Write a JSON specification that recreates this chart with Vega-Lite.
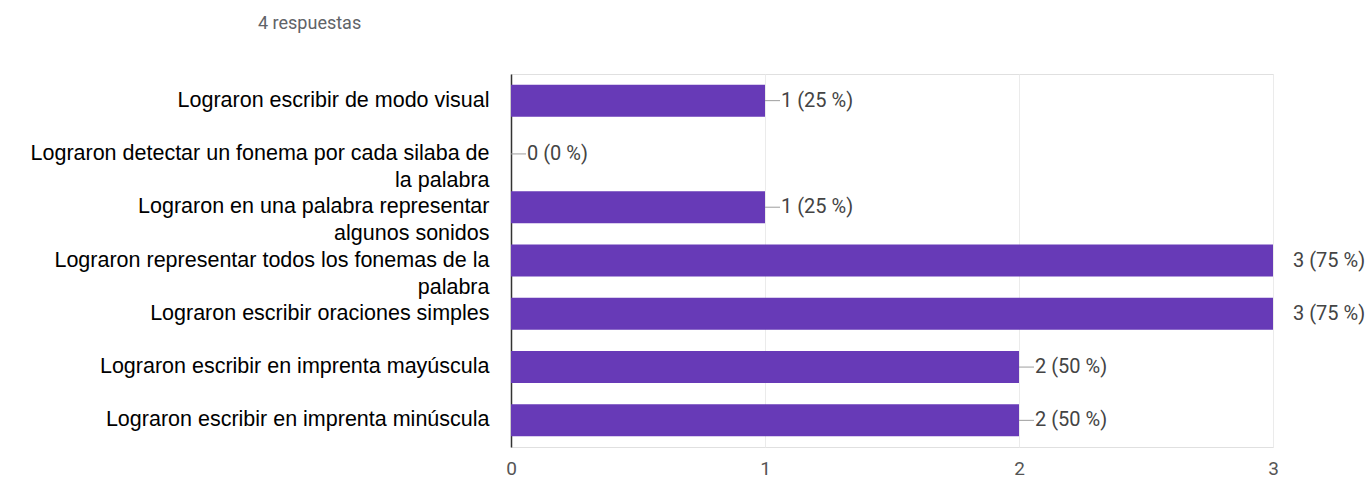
{
  "$schema": "https://vega.github.io/schema/vega-lite/v6.json",
  "autosize": {"type": "none"},
  "padding": {"left": 511, "top": 74, "right": 94, "bottom": 32},
  "width": 762,
  "height": 373,
  "background": "white",
  "title": {
    "text": "4 respuestas",
    "anchor": "start",
    "frame": "group",
    "dx": -253,
    "offset": 23,
    "baseline": "bottom",
    "font": "Roboto",
    "fontSize": 18,
    "fontWeight": "normal",
    "color": "#5f6368"
  },
  "data": {
    "values": [
      {"respuesta": "Lograron escribir de modo visual", "n": 1, "etiqueta": "1 (25 %)"},
      {"respuesta": "Lograron detectar un fonema por cada silaba de la palabra", "n": 0, "etiqueta": "0 (0 %)"},
      {"respuesta": "Lograron en una palabra representar algunos sonidos", "n": 1, "etiqueta": "1 (25 %)"},
      {"respuesta": "Lograron representar todos los fonemas de la palabra", "n": 3, "etiqueta": "3 (75 %)"},
      {"respuesta": "Lograron escribir oraciones simples", "n": 3, "etiqueta": "3 (75 %)"},
      {"respuesta": "Lograron escribir en imprenta mayúscula", "n": 2, "etiqueta": "2 (50 %)"},
      {"respuesta": "Lograron escribir en imprenta minúscula", "n": 2, "etiqueta": "2 (50 %)"}
    ]
  },
  "encoding": {
    "y": {
      "field": "respuesta",
      "type": "nominal",
      "sort": null,
      "title": null,
      "scale": {"paddingInner": 0.4, "paddingOuter": 0.2},
      "axis": {
        "domain": true,
        "domainColor": "#333333",
        "domainWidth": 1.5,
        "ticks": false,
        "grid": false,
        "labelFont": "Liberation Sans",
        "labelFontSize": 21.5,
        "labelColor": "#000000",
        "labelPadding": 22,
        "labelLimit": 700,
        "labelLineHeight": 27,
        "labelExpr": "datum.label == 'Lograron detectar un fonema por cada silaba de la palabra' ? ['Lograron detectar un fonema por cada silaba de', 'la palabra'] : datum.label == 'Lograron en una palabra representar algunos sonidos' ? ['Lograron en una palabra representar', 'algunos sonidos'] : datum.label == 'Lograron representar todos los fonemas de la palabra' ? ['Lograron representar todos los fonemas de la', 'palabra'] : datum.label"
      }
    }
  },
  "layer": [
    {
      "mark": {"type": "bar", "color": "#673ab7"},
      "encoding": {
        "x": {
          "field": "n",
          "type": "quantitative",
          "title": null,
          "scale": {"domain": [0, 3], "nice": false},
          "axis": {
            "values": [0, 0.5, 1, 1.5, 2, 2.5, 3],
            "format": "d",
            "labelExpr": "datum.value % 1 == 0 ? datum.label : ''",
            "labelFlush": false,
            "domain": false,
            "ticks": false,
            "grid": true,
            "gridColor": "#ebebeb",
            "labelFont": "Roboto",
            "labelFontSize": 19,
            "labelColor": "#555555",
            "labelPadding": 12
          }
        }
      }
    },
    {
      "transform": [{"filter": "datum.n < 3"}],
      "mark": {"type": "rule", "color": "#9e9e9e", "strokeWidth": 1, "x2Offset": 15},
      "encoding": {
        "x": {"field": "n", "type": "quantitative"},
        "x2": {"field": "n"}
      }
    },
    {
      "transform": [{"filter": "datum.n < 3"}],
      "mark": {"type": "text", "align": "left", "baseline": "middle", "dx": 16, "font": "Roboto", "fontSize": 20, "color": "#444444"},
      "encoding": {
        "x": {"field": "n", "type": "quantitative"},
        "text": {"field": "etiqueta"}
      }
    },
    {
      "transform": [{"filter": "datum.n >= 3"}],
      "mark": {"type": "text", "align": "left", "baseline": "middle", "dx": 20, "font": "Roboto", "fontSize": 20, "color": "#444444"},
      "encoding": {
        "x": {"field": "n", "type": "quantitative"},
        "text": {"field": "etiqueta"}
      }
    }
  ],
  "config": {
    "view": {"stroke": "#e0e0e0"}
  }
}
